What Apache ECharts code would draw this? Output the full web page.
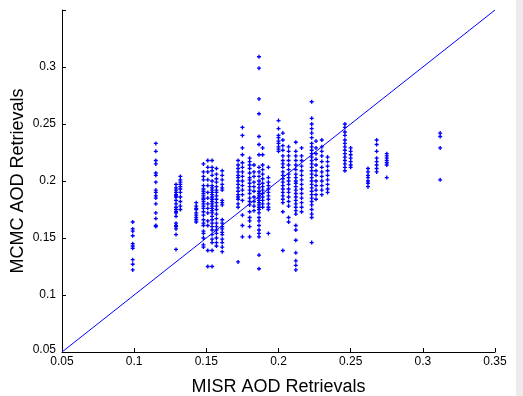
<!DOCTYPE html>
<html><head><meta charset="utf-8">
<script src="https://cdn.jsdelivr.net/npm/echarts@6/dist/echarts.min.js"></script>
<style>html,body{margin:0;padding:0;background:#fff}#c{width:523px;height:396px}</style>
</head><body><div id="c"></div>
<script>
const xTickLabels = ['0.05','0.1','0.15','0.2','0.25','0.3','0.35'];
const yTickLabels = ['0.05','0.1','0.15','0.2','0.25','0.3',''];
const misrX = [0.099,0.115,0.129,0.132,0.143,0.148,0.151,0.154,0.157,0.161,0.172,0.175,0.180,0.183,0.1865,0.189,0.193,0.200,0.203,0.207,0.212,0.216,0.223,0.226,0.230,0.234,0.246,0.250,0.262,0.268,0.275,0.312];
const mcmcY = [
 [0.164,0.158,0.156,0.152,0.145,0.143,0.141,0.131,0.127,0.122],
 [0.233,0.226,0.218,0.215,0.207,0.205,0.199,0.192,0.190,0.187,0.185,0.180,0.172,0.167,0.161,0.160],
 [0.197,0.194,0.192,0.190,0.188,0.187,0.186,0.183,0.180,0.177,0.175,0.173,0.172,0.169,0.163,0.161,0.160,0.158,0.153,0.140],
 [0.204,0.201,0.199,0.197,0.195,0.193,0.190,0.186,0.182,0.178,0.175],
 [0.181,0.178,0.176,0.175,0.172,0.170,0.168,0.166,0.164],
 [0.215,0.208,0.204,0.201,0.196,0.193,0.191,0.189,0.187,0.185,0.184,0.182,0.180,0.178,0.176,0.173,0.170,0.166,0.163,0.161,0.156,0.154,0.150,0.144,0.142],
 [0.218,0.212,0.208,0.201,0.196,0.190,0.185,0.180,0.176,0.172,0.165,0.161,0.139,0.125],
 [0.218,0.212,0.209,0.205,0.200,0.196,0.194,0.192,0.190,0.188,0.186,0.184,0.182,0.180,0.178,0.176,0.174,0.172,0.169,0.166,0.163,0.160,0.157,0.153,0.149,0.146,0.139,0.125],
 [0.211,0.206,0.202,0.199,0.195,0.192,0.190,0.187,0.184,0.181,0.178,0.175,0.171,0.167,0.163,0.160,0.157,0.154,0.150,0.146,0.143],
 [0.209,0.205,0.201,0.197,0.194,0.192,0.183,0.181,0.179,0.166,0.163,0.160,0.158,0.155,0.153,0.149,0.146,0.142,0.138],
 [0.218,0.214,0.211,0.208,0.205,0.203,0.200,0.197,0.194,0.191,0.188,0.186,0.184,0.180,0.177,0.129],
 [0.247,0.240,0.229,0.223,0.216,0.212,0.208,0.204,0.200,0.196,0.192,0.188,0.183,0.170,0.161,0.151],
 [0.220,0.217,0.214,0.211,0.207,0.203,0.201,0.198,0.195,0.192,0.189,0.185,0.182,0.179,0.173,0.168,0.165,0.160,0.151],
 [0.214,0.208,0.204,0.199,0.195,0.191,0.186,0.182,0.178,0.174],
 [0.309,0.299,0.272,0.259,0.239,0.232,0.223,0.212,0.208,0.204,0.200,0.197,0.194,0.191,0.189,0.187,0.185,0.183,0.181,0.179,0.177,0.175,0.172,0.168,0.165,0.161,0.157,0.154,0.151,0.135,0.123],
 [0.229,0.223,0.214,0.210,0.206,0.202,0.198,0.195,0.192,0.189,0.186,0.183,0.180,0.177],
 [0.212,0.203,0.199,0.196,0.193,0.190,0.187,0.184,0.180,0.177,0.175,0.154],
 [0.253,0.246,0.240,0.238,0.235,0.233,0.230,0.228,0.226],
 [0.242,0.236,0.231,0.227,0.222,0.218,0.215,0.212,0.208,0.205,0.202,0.199,0.196,0.193,0.190,0.187,0.184,0.181,0.173,0.139],
 [0.230,0.226,0.222,0.218,0.214,0.210,0.206,0.203,0.200,0.197,0.193,0.190,0.186,0.182,0.178,0.168,0.164],
 [0.234,0.226,0.222,0.218,0.214,0.210,0.206,0.203,0.200,0.198,0.195,0.192,0.189,0.186,0.183,0.180,0.177,0.174,0.171,0.161,0.157,0.148,0.137,0.130,0.126,0.122],
 [0.229,0.222,0.218,0.213,0.209,0.205,0.201,0.197,0.193,0.189,0.185,0.181,0.177,0.173],
 [0.2695,0.255,0.250,0.246,0.242,0.238,0.233,0.230,0.227,0.224,0.221,0.218,0.215,0.212,0.209,0.206,0.203,0.200,0.197,0.194,0.191,0.188,0.185,0.182,0.179,0.175,0.171,0.168,0.146],
 [0.235,0.229,0.224,0.219,0.214,0.209,0.205,0.200,0.196,0.192,0.188,0.184],
 [0.236,0.230,0.226,0.222,0.217,0.212,0.208,0.204,0.200,0.196,0.192,0.188],
 [0.221,0.217,0.213,0.209,0.205,0.201,0.197,0.193,0.190],
 [0.250,0.247,0.243,0.240,0.236,0.233,0.230,0.227,0.224,0.221,0.218,0.215,0.212,0.209],
 [0.229,0.226,0.223,0.220,0.217,0.214,0.212],
 [0.211,0.208,0.205,0.203,0.200,0.198,0.195],
 [0.236,0.232,0.226,0.220,0.217,0.214,0.211,0.208],
 [0.224,0.222,0.220,0.218,0.216,0.214,0.203],
 [0.242,0.239,0.229,0.201]
];
const oneToOne = [[0.05,0.05],[0.35,0.35]];

const pts = [];
misrX.forEach((x,i)=>mcmcY[i].forEach(y=>pts.push([x,y])));

const chart = echarts.init(document.getElementById('c'), null, {renderer:'canvas'});
const font = 'Liberation Sans';
const axisCommon = {
  type:'value', min:0.05, max:0.35, interval:0.05,
  axisLine:{show:true, lineStyle:{color:'#000', width:1}},
  axisTick:{show:true, inside:true, length:4, lineStyle:{color:'#000'}},
  splitLine:{show:false},
  nameLocation:'middle',
  nameMoveOverlap:false,
  nameTextStyle:{fontFamily:font, fontSize:18, color:'#000'}
};
chart.setOption({
  animation:false,
  backgroundColor:'#fff',
  graphic:[{type:'rect', shape:{x:516, y:0, width:7, height:396}, style:{fill:'#ececec'}, silent:true}],
  grid:{left:62, right:28, top:10, bottom:44, containLabel:false, outerBoundsMode:'none'},
  xAxis:Object.assign({}, axisCommon, {
    name:'MISR AOD Retrievals', nameGap:26,
    axisLabel:{fontFamily:font, fontSize:12, color:'#000', margin:4,
      formatter:(v)=>xTickLabels[Math.round((v-0.05)/0.05)]}
  }),
  yAxis:Object.assign({}, axisCommon, {
    name:'MCMC AOD Retrievals', nameGap:35,
    axisLabel:{fontFamily:font, fontSize:12, color:'#000', margin:6,
      formatter:(v)=>{const i=Math.round((v-0.05)/0.05); return i===0?'{lo|'+yTickLabels[i]+'}':yTickLabels[i];},
      rich:{lo:{fontFamily:font, fontSize:12, color:'#000', padding:[0,0,4,0]}}}
  }),
  series:[
    {type:'line', data:oneToOne, symbol:'none', lineStyle:{color:'#0000ff', width:1}, z:1},
    {type:'scatter', data:pts, symbol:'path://M1,0H2V1H3V2H2V3H1V2H0V1H1Z', symbolSize:4,
     itemStyle:{color:'#0000ff', opacity:1}, z:2}
  ]
});
</script></body></html>
